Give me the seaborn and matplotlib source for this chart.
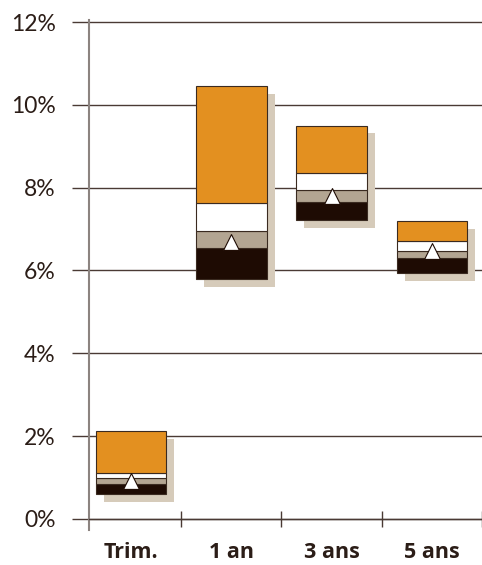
import matplotlib
matplotlib.use("Agg")
import matplotlib.pyplot as plt
import numpy as np
import seaborn as sns

# Floating stacked bars (in %), one entry per horizon
categories = ["Trim.", "1 an", "3 ans", "5 ans"]
low = [0.60, 5.79, 7.22, 5.93]
dark_top = [0.845, 6.54, 7.65, 6.31]
taupe_top = [0.99, 6.96, 7.94, 6.48]
white_top = [1.11, 7.64, 8.36, 6.72]
high = [2.12, 10.45, 9.50, 7.20]
marker = [0.92, 6.69, 7.80, 6.46]
y_ticks = [0, 2, 4, 6, 8, 10, 12]

ORANGE = "#e39020"
WHITE = "#ffffff"
TAUPE = "#b3a592"
DARK = "#1e0b03"
SHADOW = "#d6cbba"
EDGE = "#3a2a20"
TEXT = "#2b1d17"
GRID = "#4a3a34"

sns.set_style("white")
plt.rcParams["font.family"] = ["Lato", "DejaVu Sans"]

fig = plt.figure(figsize=(4.82, 5.65), dpi=100)
ax = fig.add_axes([89 / 482, 35 / 565, (482 - 89) / 482, 510 / 565])

pos = np.arange(len(categories), dtype=float)
width = 0.705


def draw_segment(x, bottom, top, color, edge, lw, z):
    bottom = np.asarray(bottom)
    heights = np.asarray(top) - bottom
    sns.barplot(x=x, y=heights, bottom=bottom, native_scale=True, width=width,
                color=color, edgecolor=edge, linewidth=lw, saturation=1,
                errorbar=None, ax=ax, zorder=z)


# drop shadow, offset right and down
draw_segment(pos + 0.08, np.asarray(low) - 0.19, np.asarray(high) - 0.19, SHADOW, SHADOW, 0, 2)

draw_segment(pos, low, dark_top, DARK, EDGE, 0.8, 3)
draw_segment(pos, dark_top, taupe_top, TAUPE, EDGE, 0.8, 3)
draw_segment(pos, taupe_top, white_top, WHITE, EDGE, 0.8, 3)
draw_segment(pos, white_top, high, ORANGE, EDGE, 0.8, 3)

sns.scatterplot(x=pos, y=marker, marker="^", s=130, color="white",
                edgecolor=DARK, linewidth=0.8, zorder=5, legend=False, ax=ax)

ax.set_xlim(-0.42, 3.5)
ax.set_ylim(-0.27, 12.05)

ax.set_yticks(y_ticks)
ax.set_yticklabels([f"{t}%" for t in y_ticks])
ax.yaxis.grid(True, color=GRID, linewidth=1.0, zorder=1)
ax.set_axisbelow(True)
ax.tick_params(axis="y", direction="out", length=12, width=1.0, color=GRID, pad=12,
               left=True, labelsize=16.5, labelcolor=TEXT)

ax.set_xticks(pos)
ax.set_xticklabels(categories)
ax.set_xticks([0.5, 1.5, 2.5, 3.5], minor=True)
ax.tick_params(axis="x", which="major", length=0, pad=17, labelsize=15.5, labelcolor=TEXT)
ax.tick_params(axis="x", which="minor", direction="inout", length=12, width=1.0, color=GRID, bottom=True)
ax.set_xlabel("")
ax.set_ylabel("")

ax.spines["top"].set_visible(False)
ax.spines["right"].set_visible(False)
ax.spines["bottom"].set_position(("data", 0))
ax.spines["bottom"].set_color(GRID)
ax.spines["bottom"].set_linewidth(1.0)
ax.spines["left"].set_color("#8c8480")
ax.spines["left"].set_linewidth(1.5)

fig.canvas.draw()
plt.setp(ax.get_xticklabels(), fontweight="bold", fontfamily=["Open Sans", "DejaVu Sans"])

fig.savefig("out.png", dpi=100)
